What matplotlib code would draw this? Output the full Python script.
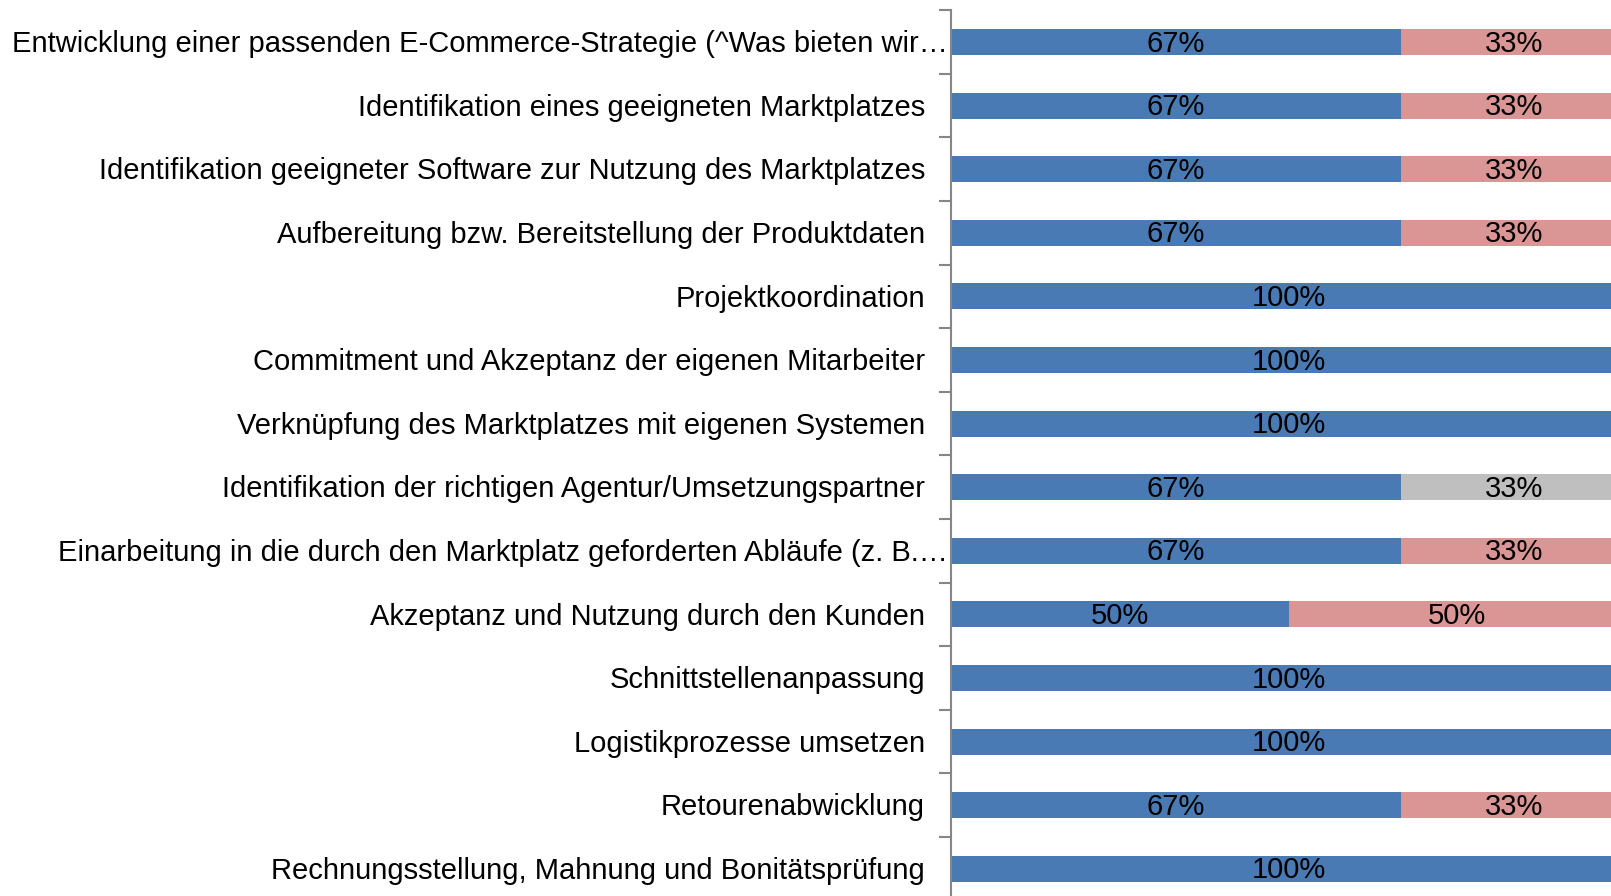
import matplotlib

matplotlib.use("Agg")
import matplotlib.pyplot as plt
import matplotlib.transforms as mtransforms
import numpy as np

plt.rcParams["font.family"] = ["Liberation Sans", "DejaVu Sans"]

CATEGORIES = [
    "Entwicklung einer passenden E-Commerce-Strategie (^Was bieten wir…",
    "Identifikation eines geeigneten Marktplatzes",
    "Identifikation geeigneter Software zur Nutzung des Marktplatzes",
    "Aufbereitung bzw. Bereitstellung der Produktdaten",
    "Projektkoordination",
    "Commitment und Akzeptanz der eigenen Mitarbeiter",
    "Verknüpfung des Marktplatzes mit eigenen Systemen",
    "Identifikation der richtigen Agentur/Umsetzungspartner",
    "Einarbeitung in die durch den Marktplatz geforderten Abläufe (z. B.…",
    "Akzeptanz und Nutzung durch den Kunden",
    "Schnittstellenanpassung",
    "Logistikprozesse umsetzen",
    "Retourenabwicklung",
    "Rechnungsstellung, Mahnung und Bonitätsprüfung",
]
TRUNCATED = [0, 8]

# share in the first (blue) segment and in the second segment
BLUE_SHARE = [0.667, 0.667, 0.667, 0.667, 1.0, 1.0, 1.0, 0.667, 0.667, 0.5, 1.0, 1.0, 0.667, 1.0]
REST_SHARE = [0.333, 0.333, 0.333, 0.333, 0.0, 0.0, 0.0, 0.333, 0.333, 0.5, 0.0, 0.0, 0.333, 0.0]
REST_KIND = ["red", "red", "red", "red", "", "", "", "grey", "red", "red", "", "", "red", ""]

BLUE = "#4A7AB4"
COLORS = {"red": "#D99694", "grey": "#BFBFBF", "": "#FFFFFF"}
FS = 21

W, H = 1611, 896
fig = plt.figure(figsize=(W / 100, H / 100), dpi=100)
# plot area is cropped on the right and bottom, like the original export
left_px, right_px = 951, 1626
top_px, bottom_px = 10.2, 900.6
ax = fig.add_axes([left_px / W, 1 - bottom_px / H,
                   (right_px - left_px) / W, (bottom_px - top_px) / H])

y = np.arange(len(CATEGORIES))
blue = np.array(BLUE_SHARE)
rest = np.array(REST_SHARE)
bar_h = 0.41

ax.barh(y, blue, height=bar_h, color=BLUE, linewidth=0)
ax.barh(y, rest, left=blue, height=bar_h,
        color=[COLORS[k] for k in REST_KIND], linewidth=0)

nudge = 0.025  # text sits a touch below the bar centre in the original
for i in y:
    ax.text(blue[i] / 2, i + nudge, f"{blue[i]:.0%}", ha="center", va="center",
            fontsize=FS, color="black")
    if rest[i] > 0:
        ax.text(blue[i] + rest[i] / 2, i + nudge, f"{rest[i]:.0%}", ha="center",
                va="center", fontsize=FS, color="black")

ax.set_xlim(0, 1)
ax.set_ylim(len(CATEGORIES) - 0.5, -0.5)

for side in ("top", "right", "bottom"):
    ax.spines[side].set_visible(False)
ax.spines["left"].set_color("#868686")
ax.spines["left"].set_linewidth(1.5)
ax.set_xticks([])
ax.set_yticks(np.arange(len(CATEGORIES) + 1) - 0.5)
ax.set_yticklabels([])
ax.tick_params(axis="y", length=9, width=1.5, color="#868686", direction="out")

# category labels: right aligned, the truncated ones run up to the axis
label_tr = mtransforms.blended_transform_factory(ax.transAxes, ax.transData)
for i, name in enumerate(CATEGORIES):
    gap = 3 if i in TRUNCATED else 26
    off = mtransforms.ScaledTranslation(-gap / 100, 0, fig.dpi_scale_trans)
    ax.text(0, i + 0.035, name, ha="right", va="center", fontsize=FS,
            transform=label_tr + off, clip_on=False)

fig.savefig("out.png", dpi=100)
